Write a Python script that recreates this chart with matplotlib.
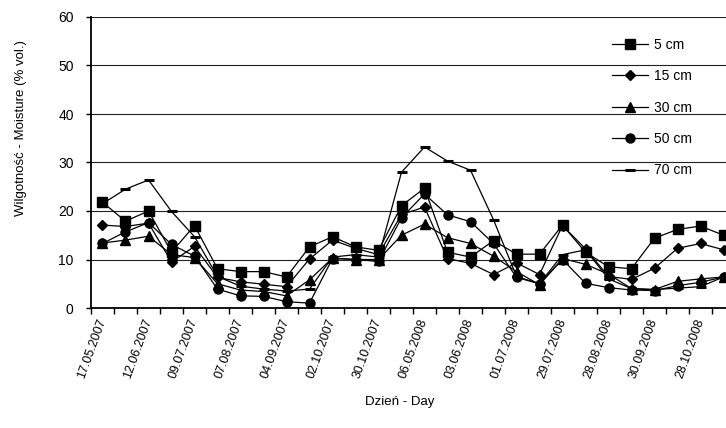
import matplotlib.pyplot as plt
import numpy as np

plt.rcParams['font.family'] = ['Liberation Sans', 'DejaVu Sans']

# Measurement dates (every second one is labelled on the axis)
tick_dates = ["17.05.2007", "12.06.2007", "09.07.2007", "07.08.2007", "04.09.2007",
              "02.10.2007", "30.10.2007", "06.05.2008", "03.06.2008", "01.07.2008",
              "29.07.2008", "28.08.2008", "30.09.2008", "28.10.2008"]

# Soil moisture (% vol.) at each depth
depth_5 = [21.8, 17.9, 20.0, 11.5, 17.0, 8.1, 7.5, 7.5, 6.4, 12.6, 14.7, 12.6, 11.9, 21.1,
           24.7, 11.5, 10.5, 13.9, 11.1, 11.1, 17.1, 11.5, 8.5, 8.1, 14.4, 16.2, 16.9, 15.0]
depth_15 = [17.1, 16.8, 17.5, 9.5, 12.7, 6.3, 5.4, 4.9, 4.4, 10.1, 14.0, 12.3, 11.0, 19.3,
            20.8, 10.2, 9.2, 6.9, 9.3, 6.9, 17.0, 12.2, 6.5, 5.9, 8.2, 12.3, 13.3, 12.0]
depth_30 = [13.4, 14.0, 14.8, 11.0, 10.4, 5.0, 3.7, 3.4, 2.5, 5.8, 10.3, 10.0, 10.0, 15.0,
            17.3, 14.5, 13.3, 10.7, 7.5, 4.8, 10.2, 9.0, 7.0, 4.0, 3.8, 5.5, 6.0, 6.4]
depth_50 = [13.3, 15.7, 17.6, 13.1, 10.7, 3.9, 2.5, 2.4, 1.3, 1.0, 10.2, 10.0, 9.6, 18.6,
            23.5, 19.2, 17.8, 13.3, 6.3, 5.0, 10.0, 5.1, 4.2, 3.7, 3.6, 4.6, 5.3, 6.4]
depth_70 = [21.5, 24.5, 26.4, 19.9, 14.7, 6.5, 4.5, 3.9, 3.5, 3.9, 10.5, 11.0, 10.5, 28.0,
            33.2, 30.3, 28.4, 18.2, 6.5, 5.0, 11.0, 12.0, 6.0, 4.0, 3.8, 4.1, 4.4, 6.4]

series = [
    ("5 cm", depth_5, dict(marker='s', ms=6.5)),
    ("15 cm", depth_15, dict(marker='D', ms=5)),
    ("30 cm", depth_30, dict(marker='^', ms=6.5)),
    ("50 cm", depth_50, dict(marker='o', ms=6.5)),
    ("70 cm", depth_70, dict(marker='_', ms=7, mew=2.2)),
]

fig = plt.figure(figsize=(7.26, 4.28), dpi=100)
W, H = 726, 428
n = len(depth_5)
step = 23.0
left, top, bottom = 91, 17, 308
ax = fig.add_axes([left / W, (H - bottom) / H, (n + 1) * step / W, (bottom - top) / H])

x = np.arange(n)
for name, vals, style in series:
    ax.plot(x, vals, color='black', lw=0.9, mfc='black', mec='black', label=name, **style)

ax.set_xlim(-0.5, n + 0.5)
ax.set_ylim(0, 60)
ax.set_yticks(np.arange(0, 61, 10))
ax.yaxis.grid(True, color='#222222', lw=0.8)
ax.set_axisbelow(True)
for s in ('top', 'right'):
    ax.spines[s].set_visible(False)
ax.spines['left'].set_linewidth(1.3)
ax.spines['bottom'].set_linewidth(1.3)

# tick marks between categories, labels centred on every second point
ax.set_xticks(np.arange(-0.5, n + 0.5, 1))
ax.set_xticklabels([])
ax.set_xticks(np.arange(0, 2 * len(tick_dates), 2), minor=True)
ax.set_xticklabels(tick_dates, minor=True, rotation=70, ha='right', va='center',
                   rotation_mode='anchor', fontsize=9)
ax.tick_params(axis='x', which='major', direction='out', length=4, width=1)
ax.tick_params(axis='x', which='minor', length=0, pad=8)
ax.tick_params(axis='y', direction='out', length=3.5, width=1, labelsize=10, pad=9)

fig.text(21 / W, 1 - 128 / H, "Wilgotność - Moisture (% vol.)", rotation=90,
         ha='center', va='center', fontsize=9.5)
fig.text(400 / W, 1 - 402 / H, "Dzień - Day", ha='center', va='center', fontsize=9.5)

ax.legend(loc='upper left', bbox_to_anchor=(612 / W, 1 - 38 / H), bbox_transform=fig.transFigure,
          frameon=False, fontsize=10, handlelength=2.6, labelspacing=1.25, handletextpad=0.4,
          borderaxespad=0, borderpad=0)

fig.savefig("out.png", dpi=100)
